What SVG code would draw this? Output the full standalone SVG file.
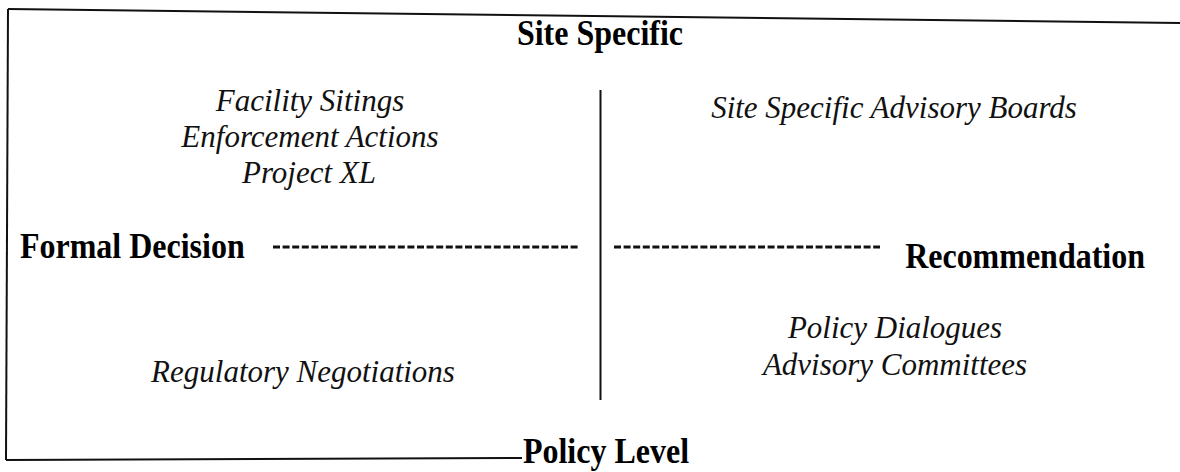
<svg xmlns="http://www.w3.org/2000/svg" width="1180" height="472" viewBox="0 0 1180 472">
  <style>
    .axis { font-family: "Liberation Serif", "Times New Roman", serif; font-weight: bold; font-size: 32px; fill: #000; }
    .item { font-family: "Liberation Serif", "Times New Roman", serif; font-style: italic; font-size: 31px; fill: #111; }
    .frame { fill: none; stroke: #111; stroke-width: 2; }
    .dash { stroke: #111; stroke-width: 3; stroke-dasharray: 7 2.6; }
  </style>
  <rect width="1180" height="472" fill="#fff"/>

  <!-- outer frame: top, left and partial bottom edges -->
  <g id="frame">
    <path class="frame" d="M8 9 L1180 23"/>
    <path class="frame" d="M8 9 L6 460"/>
    <path class="frame" d="M6 460 L522 458"/>
  </g>

  <!-- axes -->
  <g id="connectors">
    <line x1="600.5" y1="90" x2="600.5" y2="400" stroke="#111" stroke-width="2"/>
    <line class="dash" x1="273" y1="247" x2="579" y2="247"/>
    <line class="dash" x1="614" y1="247" x2="880" y2="247"/>
  </g>

  <!-- labels are slightly tall-narrow: scale each around its baseline -->
  <g id="site-specific"><text class="axis" transform="translate(600 45) scale(1 1.14)" text-anchor="middle">Site Specific</text></g>
  <g id="policy-level"><text class="axis" transform="translate(606 463) scale(1 1.14)" text-anchor="middle">Policy Level</text></g>
  <g id="formal-decision"><text class="axis" transform="translate(20 258) scale(1 1.14)">Formal Decision</text></g>
  <g id="recommendation"><text class="axis" transform="translate(1145 268) scale(1 1.14)" text-anchor="end">Recommendation</text></g>

  <g id="formal-site">
    <text class="item" transform="translate(310 111) scale(1 1.05)" text-anchor="middle">Facility Sitings</text>
    <text class="item" transform="translate(310 147) scale(1 1.05)" text-anchor="middle">Enforcement Actions</text>
    <text class="item" transform="translate(309 183) scale(1 1.05)" text-anchor="middle">Project XL</text>
  </g>
  <g id="recommend-site">
    <text class="item" transform="translate(894 118) scale(1 1.05)" text-anchor="middle">Site Specific Advisory Boards</text>
  </g>
  <g id="formal-policy">
    <text class="item" transform="translate(303 382) scale(1 1.05)" text-anchor="middle">Regulatory Negotiations</text>
  </g>
  <g id="recommend-policy">
    <text class="item" transform="translate(895 338) scale(1 1.05)" text-anchor="middle">Policy Dialogues</text>
    <text class="item" transform="translate(895 375) scale(1 1.05)" text-anchor="middle">Advisory Committees</text>
  </g>
</svg>
